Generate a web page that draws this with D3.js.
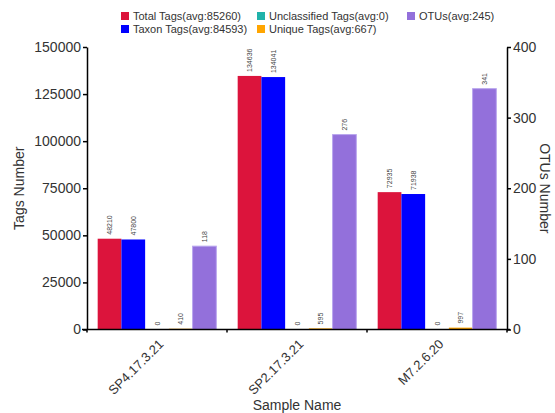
<!DOCTYPE html>
<html><head><meta charset="utf-8">
<script src="https://cdn.jsdelivr.net/npm/d3@7"></script>
<style>body{margin:0;background:#fff}svg{display:block;font-family:"Liberation Sans",Arial,sans-serif}</style>
</head><body>
<svg id="c" width="555" height="413"></svg>
<script>
const samples = ["SP4.17.3.21", "SP2.17.3.21", "M7.2.6.20"];
const seriesNames = ["Total Tags", "Taxon Tags", "Unclassified Tags", "Unique Tags", "OTUs"];
const totalTags = [48210, 134636, 72935];
const taxonTags = [47800, 134041, 71938];
const unclassifiedTags = [0, 0, 0];
const uniqueTags = [410, 595, 997];
const otus = [118, 276, 341];
const leftTicks = [0, 25000, 50000, 75000, 100000, 125000, 150000];
const rightTicks = [0, 100, 200, 300, 400];
const colors = ["#DC143C", "#0000FF", "#20B2AA", "#FFA500", "#9370DB"];

const seriesValues = [totalTags, taxonTags, unclassifiedTags, uniqueTags, otus];
const svg = d3.select("#c");
const L = 87, R = 507, T = 47, B = 329.5;

const x0 = d3.scaleBand().domain(samples).range([L, R]);
const x1 = d3.scaleBand().domain(seriesNames).range([0, x0.bandwidth()]).paddingOuter(0.45).paddingInner(0);
const yL = d3.scaleLinear().domain([0, 150000]).range([B, T]);
const yR = d3.scaleLinear().domain([0, 400]).range([B, T]);

const fmt = v => Math.round(v).toString();
const avg = arr => Math.round(d3.mean(arr));
const legend = [
  {i:0, x:121, y:12}, {i:1, x:121, y:25}, {i:2, x:257, y:12}, {i:3, x:257, y:25}, {i:4, x:407, y:12}
];
const lg = svg.append("g");
legend.forEach(l => {
  lg.append("rect").attr("x", l.x).attr("y", l.y).attr("width", 8).attr("height", 8).attr("fill", colors[l.i]);
  lg.append("text").attr("x", l.x + 12).attr("y", l.y + 8).attr("font-size", 11).attr("fill", "#333")
    .text(`${seriesNames[l.i]}(avg:${avg(seriesValues[l.i])})`);
});

samples.forEach((s, si) => {
  seriesNames.forEach((n, k) => {
    const v = seriesValues[k][si];
    const y = k === 4 ? yR : yL;
    const bx = x0(s) + x1(n);
    const bw = x1.bandwidth();
    svg.append("rect").attr("x", bx).attr("y", y(v)).attr("width", bw).attr("height", B - y(v))
      .attr("fill", colors[k]).attr("stroke", k === 4 ? "#b9a6ee" : "none").attr("stroke-width", k === 4 ? 1 : 0);
    const tx = bx + bw / 2 + 2.5, ty = y(v) - 4;
    svg.append("text").attr("transform", `translate(${tx},${ty}) rotate(-90)`)
      .attr("font-size", 7).attr("fill", "#444").attr("text-anchor", "start").text(fmt(v));
  });
});

const axL = svg.append("g").attr("transform", `translate(${L},0)`)
  .call(d3.axisLeft(yL).tickValues(leftTicks).tickSize(4).tickSizeOuter(0).tickFormat(d3.format("d")));
const axR = svg.append("g").attr("transform", `translate(${R},0)`)
  .call(d3.axisRight(yR).tickValues(rightTicks).tickSize(4).tickSizeOuter(0));
[axL, axR].forEach(a => {
  a.selectAll("path,line").attr("stroke", "#000").attr("stroke-width", 1.5);
  a.selectAll("text").attr("font-size", 14).attr("fill", "#333").attr("font-family", "Liberation Sans, Arial, sans-serif");
});
axL.selectAll("text").attr("x", -6);
axR.selectAll("text").attr("x", 6);

const axB = svg.append("g").attr("transform", `translate(0,${B})`);
axB.append("line").attr("x1", L - 5).attr("x2", R + 3).attr("stroke", "#000").attr("stroke-width", 1.5);
const bounds = [L, ...samples.map(s => x0(s) + x0.bandwidth())];
axB.selectAll("line.t").data(bounds).enter().append("line").attr("class", "t")
  .attr("x1", d => d).attr("x2", d => d).attr("y1", 0).attr("y2", 3).attr("stroke", "#000").attr("stroke-width", 1.5);
axB.selectAll("text").data(samples).enter().append("text")
  .attr("transform", d => `translate(${x0(d) + x0.bandwidth() / 2 + 1},${9}) rotate(-45)`)
  .attr("text-anchor", "end").attr("dy", "0.7em").attr("font-size", 13).attr("fill", "#333").text(d => d);

svg.append("text").attr("transform", `translate(24,${(T + B) / 2}) rotate(-90)`).attr("text-anchor", "middle")
  .attr("font-size", 14).attr("fill", "#333").text("Tags Number");
svg.append("text").attr("transform", `translate(540,${(T + B) / 2}) rotate(90)`).attr("text-anchor", "middle")
  .attr("font-size", 14).attr("fill", "#333").text("OTUs Number");
svg.append("text").attr("x", (L + R) / 2).attr("y", 410).attr("text-anchor", "middle")
  .attr("font-size", 14).attr("fill", "#333").text("Sample Name");
</script>
</body></html>
